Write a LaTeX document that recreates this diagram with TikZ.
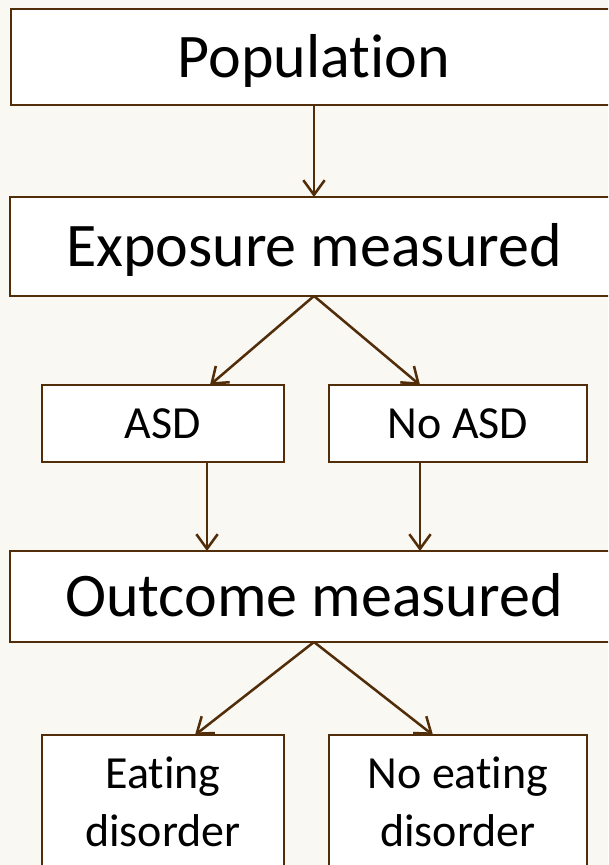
\documentclass[tikz,border=0pt]{standalone}
\usepackage{fontspec}
\setmainfont{Carlito}[Ligatures=NoCommon]
\usetikzlibrary{arrows.meta}
\definecolor{bgpaper}{RGB}{250,248,243}
\definecolor{boxline}{RGB}{82,45,10}

\begin{document}
\begin{tikzpicture}[x=0.75pt, y=-0.75pt,
  box/.style={draw=boxline, line width=1.9pt, fill=white,
              inner sep=0pt, outer sep=0pt},
  bigtext/.style={font=\fontsize{46.5}{56}\selectfont,
                  text height=30pt, text depth=0pt},
  smalltext/.style={font=\fontsize{34.5}{43.5}\selectfont},
  arr/.style={draw=boxline, line width=1.9pt,
              -{Straight Barb[length=11pt, width=16pt]}}]
  % page
  \fill[bgpaper] (0,0) rectangle (608,865);
  \useasboundingbox (0,0) rectangle (608,865);
  \clip (0,0) rectangle (608,865);
  % boxes
  \node[box, bigtext, minimum width=454.5pt, minimum height=72pt]
    (pop) at (314,57) {Population};
  \node[box, bigtext, minimum width=456pt, minimum height=74.25pt]
    (expo) at (314,246.5) {Exposure measured};
  \node[box, smalltext, text height=22.2pt, text depth=0pt,
        minimum width=181.5pt, minimum height=57.75pt]
    (asd) at (163,423.5) {ASD};
  \node[box, smalltext, text height=22.2pt, text depth=0pt,
        minimum width=193.5pt, minimum height=57.75pt]
    (noasd) at (458,423.5) {No ASD};
  \node[box, bigtext, minimum width=456pt, minimum height=68.25pt]
    (outc) at (314,596.5) {Outcome measured};
  \node[box, smalltext, align=center,
        minimum width=181.5pt, minimum height=100.5pt]
    (eat) at (163,802) {Eating\\disorder};
  \node[box, smalltext, align=center,
        minimum width=193.5pt, minimum height=100.5pt]
    (noeat) at (458,802) {No eating\\disorder};
  % arrows
  \draw[arr] (pop.south) -- (expo.north);
  \draw[arr] (expo.south) -- ([xshift=35.25pt]asd.north);
  \draw[arr] (expo.south) -- ([xshift=-28.5pt]noasd.north);
  \draw[arr] ([xshift=33pt]asd.south) -- ([xshift=33pt]asd.south |- outc.north);
  \draw[arr] ([xshift=-28.5pt]noasd.south) -- ([xshift=-28.5pt]noasd.south |- outc.north);
  \draw[arr] (outc.south) -- ([xshift=24pt]eat.north);
  \draw[arr] (outc.south) -- ([xshift=-18.75pt]noeat.north);
\end{tikzpicture}
\end{document}
